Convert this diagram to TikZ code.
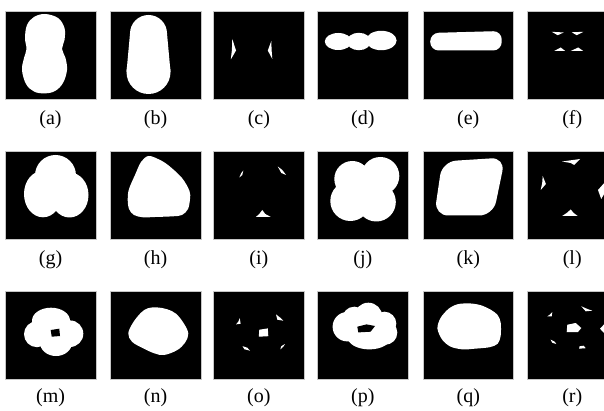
\documentclass[tikz,border=0pt]{standalone}
\usepackage{fontspec}
\setmainfont{Liberation Serif}
\usetikzlibrary{positioning}
\tikzset{
    % Panels
    panel/.style={rectangle, draw=gray!45, fill=black, line width=0.6pt,
                  minimum width=90.5pt, minimum height=88pt, inner sep=0pt, anchor=north west},
    blob/.style={fill=white},
    hole/.style={fill=black},
    % Labels
    lbl/.style={font=\fontsize{20}{24}\selectfont, inner sep=0pt}
}
\begin{document}
\begin{tikzpicture}[x=1pt, y=-1pt]
\useasboundingbox (0,0) rectangle (604,411);
\clip (0,0) rectangle (604,411);

\foreach \name/\px/\py/\gap in {a/5/11/20, b/110/11/20, c/213.3/11/20, d/317.3/11/20, e/422.7/11/20, f/526.7/11/20,
                                g/5/151/20, h/110/151/20, i/213.3/151/20, j/317.3/151/20, k/422.7/151/20, l/526.7/151/20,
                                m/5/290.7/18, n/110/290.7/18, o/213.3/290.7/18, p/317.3/290.7/18, q/422.7/290.7/18, r/526.7/290.7/18} {
  \node[panel] (p\name) at (\px,\py) {};
  \node[lbl, below=\gap pt of p\name.south, anchor=center] (l\name) {(\name)};
}

% (a)
\begin{scope}[shift={(pa.north west)}]
\fill[blob] plot[smooth cycle, tension=0.6] coordinates {(40,3) (53,7) (59.5,17) (59.5,29) (57,38) (60.5,47) (62,59) (58,72) (50,80) (39.5,82.5) (29,80.5) (21,73) (17,59) (19,47) (21.5,38) (20,27) (22,14) (29,6)};
\end{scope}
% (b)
\begin{scope}[shift={(pb.north west)}]
\fill[blob] (38.5,22.5) circle (18.5pt);
\fill[blob] (38.5,61) circle (22pt);
\fill[blob] (20,22.5) -- (57,22.5) -- (60.5,61) -- (16.5,61) -- cycle;
\end{scope}
% (c)
\begin{scope}[shift={(pc.north west)}]
\fill[blob] (19,28) -- (22.7,39.5) -- (17.5,48.5) -- (18.6,39) -- cycle;
\fill[blob] (58,30) -- (54.5,39.5) -- (59,48) -- (58.3,39) -- cycle;
\end{scope}
% (d)
\begin{scope}[shift={(pd.north west)}]
\fill[blob] (21,30.5) ellipse (13.5pt and 8.5pt);
\fill[blob] (41.5,30.5) ellipse (12pt and 8.7pt);
\fill[blob] (64,29.5) ellipse (15.3pt and 9.7pt);
\end{scope}
% (e)
\begin{scope}[shift={(pe.north west)}]
\fill[blob, rounded corners=8.5pt] (7.5,22) -- (79,20) -- (79,39.5) -- (7.5,39.5) -- cycle;
\end{scope}
% (f)
\begin{scope}[shift={(pf.north west)}]
\fill[blob] (25,20.8) -- (37,21.5) -- (31,24.2) -- cycle;
\fill[blob] (45,21.3) -- (56.7,20.8) -- (50,24.2) -- cycle;
\fill[blob] (27.5,40) -- (38.5,40) -- (34,36.5) -- cycle;
\fill[blob] (44,40) -- (56.5,40) -- (51.5,36.5) -- cycle;
\end{scope}
% (g)
\begin{scope}[shift={(pg.north west)}]
\fill[blob] (50.5,24.5) circle (20.5pt);
\fill[blob] (38,43) ellipse (19pt and 23.3pt);
\fill[blob] (64.5,44) ellipse (19pt and 22.5pt);
\end{scope}
% (h)
\begin{scope}[shift={(ph.north west)}]
\fill[blob] plot[smooth cycle, tension=0.55] coordinates {(38.3,5) (48,8) (58,14) (72,27) (79.5,40) (80,48) (78,58) (72,64) (63,65.3) (45,66) (33,66.3) (24,64) (19,58) (17.7,48) (19,38) (25,24) (31,11)};
\end{scope}
% (i)
\begin{scope}[shift={(pi.north west)}]
\fill[blob] (30,19.5) -- (29,24) -- (26,26.5) -- (28,22) -- cycle;
\fill[blob] (64.5,15.5) -- (69,19) -- (72.8,24) -- (68,22) -- cycle;
\fill[blob] (49,59) -- (52,63) -- (57.5,66) -- (42.5,66) -- (46,63) -- cycle;
\end{scope}
% (j)
\begin{scope}[shift={(pj.north west)}]
\fill[blob] (35,28) circle (18pt);
\fill[blob] (63,25) circle (19pt);
\fill[blob] (33,50) circle (20pt);
\fill[blob] (59,51) circle (19.5pt);
\end{scope}
% (k)
\begin{scope}[shift={(pk.north west)}]
\fill[blob, rounded corners=14pt] (19.5,10.5) -- (82.5,6.5) -- (70.5,64.5) -- (11.5,64.5) -- cycle;
\end{scope}
% (l)
\begin{scope}[shift={(pl.north west)}]
\fill[blob] (35.5,10.5) -- (53.5,8) -- (47.5,14) -- (44,12) -- cycle;
\fill[blob] (16,25) -- (19.2,33) -- (14,39) -- (15.5,32) -- cycle;
\fill[blob] (77.5,32) -- (71.3,39) -- (74.5,48) -- (78,42) -- cycle;
\fill[blob] (44,58.5) -- (47,62) -- (51,65) -- (35.5,65) -- (40,62) -- cycle;
\end{scope}
% (m)
\begin{scope}[shift={(pm.north west)}]
\fill[blob] (46,30) ellipse (19pt and 13pt);
\fill[blob] (32,43.5) circle (13pt);
\fill[blob] (65,43) circle (13.3pt);
\fill[blob] (51,52) ellipse (16pt and 13.3pt);
\fill[hole] (45.7,39.3) -- (54.3,38) -- (55,45.3) -- (46.7,46) -- cycle;
\end{scope}
% (n)
\begin{scope}[shift={(pn.north west)}]
\fill[blob] plot[smooth cycle, tension=0.6] coordinates {(18.3,42.7) (23,32) (31,22) (38,17.5) (47,16.7) (57,18.5) (66,23) (74,33) (78.3,43) (75,52) (67,59.5) (54,64.3) (44,62.5) (32,57) (22,51)};
\end{scope}
% (o)
\begin{scope}[shift={(po.north west)}]
\fill[blob] (26.5,27.5) -- (27.3,33) -- (22.7,33.7) -- (25,31) -- cycle;
\fill[blob] (62.7,23.7) -- (67,27) -- (70,30) -- (64,29) -- cycle;
\fill[blob] (46,39) -- (54.5,37.7) -- (55,45.5) -- (45.5,46) -- cycle;
\fill[blob] (29.3,55.5) -- (34,57) -- (36.7,60) -- (31,58.5) -- cycle;
\fill[blob] (71.7,53.3) -- (70,56) -- (67,58.7) -- (68,55.5) -- cycle;
\end{scope}
% (p)
\begin{scope}[shift={(pp.north west)}]
\fill[blob] (30,36) circle (14.7pt);
\fill[blob] (37,28) circle (12pt);
\fill[blob] (51,26) circle (14pt);
\fill[blob] (67,33) circle (12pt);
\fill[blob] (68,42) circle (12pt);
\fill[blob] (52,46) ellipse (22pt and 12.7pt);
\fill[hole] (40,36) -- (49.3,33.7) -- (57.7,35.3) -- (53.3,41) -- (41,41.7) -- cycle;
\end{scope}
% (q)
\begin{scope}[shift={(pq.north west)}]
\fill[blob] plot[smooth cycle, tension=0.5] coordinates {(14.7,37.7) (18,27) (26,18) (35,13.5) (47,12.7) (58,14.5) (68,19) (75,24.5) (78,32) (78,45) (75,53) (67,56.5) (52,58) (40,58.7) (28,56) (19.5,49)};
\end{scope}
% (r)
\begin{scope}[shift={(pr.north west)}]
\fill[blob] (25.6,21.3) -- (25,25.6) -- (20.6,25.6) -- (23,24) -- cycle;
\fill[blob] (54.6,15.6) -- (60,18) -- (65.6,20) -- (59,20.6) -- cycle;
\fill[blob] (40.6,34) -- (49,32.3) -- (54.6,37.3) -- (51.3,41.3) -- (40,41.3) -- cycle;
\fill[blob] (77.5,33.5) -- (73.3,38) -- (77.5,42.5) -- cycle;
\fill[blob] (24,49) -- (28,51) -- (29.6,53.3) -- (25.5,52) -- cycle;
\fill[blob] (53,55.5) -- (57,55) -- (59,57.5) -- (52.3,58) -- cycle;
\end{scope}

\end{tikzpicture}
\end{document}
